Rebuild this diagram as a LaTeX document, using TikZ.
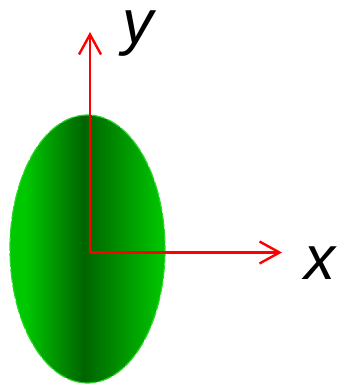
\documentclass[tikz,border=0pt]{standalone}
\usepackage{fontspec}
\setmainfont{Liberation Sans}
\usepackage{tikz}
\usetikzlibrary{arrows.meta, positioning}
\definecolor{leafedge}{RGB}{0,200,0}
\definecolor{leafmid}{RGB}{0,100,0}
\definecolor{leafright}{RGB}{0,195,0}
\definecolor{leafdash}{RGB}{40,215,40}
\pgfdeclarehorizontalshading{leafshade}{100bp}{%
  color(0bp)=(leafedge); color(29.8bp)=(leafedge);
  color(48.9bp)=(leafmid); color(73.4bp)=(leafright);
  color(100bp)=(leafright)}

\begin{document}
\begin{tikzpicture}[x=1pt, y=-1pt,
    axis/.style={draw=red, line width=2.6pt, -{Straight Barb[length=20pt, width=22pt, line width=2.4pt]}},
    axislabel/.style={font=\fontsize{62}{62}\selectfont\itshape, inner sep=0pt, anchor=base}]
    \useasboundingbox (0,0) rectangle (341,385);
    % shaded ellipse
    \shade[shading=leafshade]
        (87.5,249) ellipse [x radius=77.5, y radius=134];
    \draw[leafdash, line width=1.2pt, dash pattern=on 14pt off 2pt]
        (87.5,249) ellipse [x radius=77.5, y radius=134];
    % axes
    \coordinate (origin) at (90,252.5);
    \coordinate (xtip) at (282,252.5);
    \coordinate (ytip) at (90,32);
    \draw[axis] (origin) -- (xtip);
    \draw[axis] (origin) -- (ytip);
    \node[axislabel] (ylabel) at (138,44) {y};
    \node[axislabel] (xlabel) at (320,279) {x};
\end{tikzpicture}
\end{document}
